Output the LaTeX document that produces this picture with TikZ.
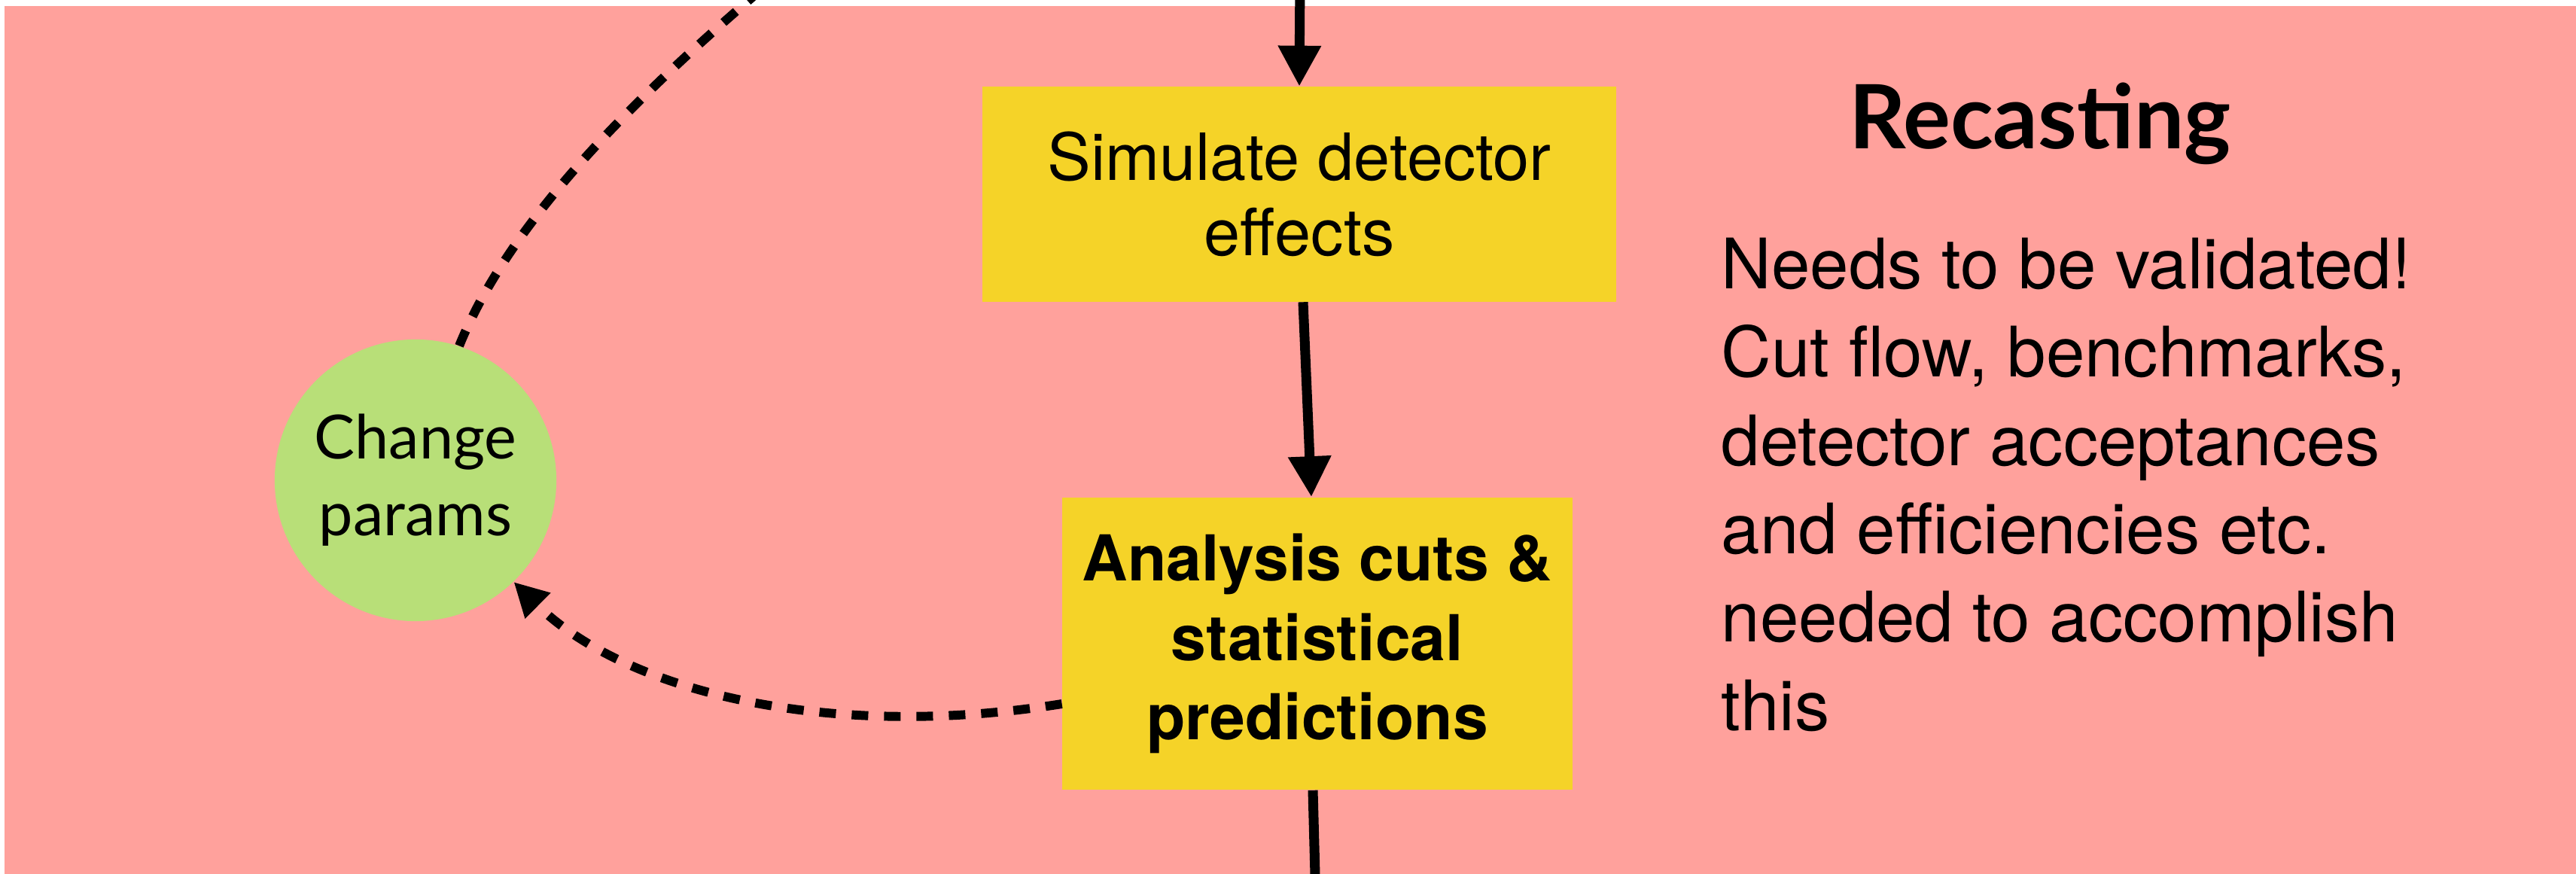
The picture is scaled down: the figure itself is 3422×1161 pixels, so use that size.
\documentclass[tikz,border=0pt]{standalone}
\usepackage{fontspec}
\setmainfont{TeX Gyre Heros}
\newfontfamily\roundfont{Lato}
\usetikzlibrary{arrows.meta}
\usetikzlibrary{positioning}
\usepackage{xcolor}

\definecolor{bgpink}{RGB}{255,161,156}
\definecolor{boxyellow}{RGB}{245,211,40}
\definecolor{paramgreen}{RGB}{184,223,120}

\tikzset{
  stepbox/.style={fill=boxyellow, inner sep=0pt, align=center},
  flow/.style={line width=3.7pt, -{Triangle[length=0.54cm, width=0.54cm]}},
  dashflow/.style={line width=3.4pt, dash pattern=on 0.22cm off 0.21cm}
}

\begin{document}
\begin{tikzpicture}[x=0.01cm, y=-0.01cm]

%background
\fill[white] (0,0) rectangle (3422,1161);
\useasboundingbox (0,0) rectangle (3422,1161);
\fill[bgpink] (6,8) rectangle (3422,1161);

%boxes
\node[stepbox, minimum width=8.42cm, minimum height=2.85cm,
      font=\fontsize{24.6pt}{28.5pt}\selectfont] (sim) at (1726,258) {Simulate detector\\effects};
\node[stepbox, minimum width=6.77cm, minimum height=3.88cm,
      font=\bfseries\fontsize{23.9pt}{30pt}\selectfont] (ana) at (1750,855) {Analysis cuts \&\\statistical\\predictions};
\node[circle, fill=paramgreen, minimum size=3.74cm, inner sep=0pt, align=center,
      font=\roundfont\fontsize{23pt}{29pt}\selectfont] (chg) at (552,638) {Change\\params};

%free ends
\coordinate (top) at (1727,-30);
\coordinate (bot) at (1748,1200);
\coordinate (exit) at (1060,-55);

%arrows
\draw[flow] (top) -- (sim.north);
\draw[flow] ([shift={(5,0)}]sim.south) -- ([shift={(-8,0)}]ana.north);
\draw[line width=3.7pt] ([shift={(-6,0)}]ana.south) -- (bot);

%loop
\draw[dashflow, -{Triangle[length=0.45cm, width=0.45cm]}] ([shift={(0,80)}]ana.west)
  .. controls +(-311,50) and +(147,145) .. (chg.-46);
\draw[dashflow] (chg.72) .. controls +(69,-170) and +(-210,175) .. (exit);

%labels
\node[anchor=base, font=\roundfont\bfseries\fontsize{33.5pt}{40pt}\selectfont] (title) at (2710,198) {Recasting};
\node[anchor=north west, inner sep=0pt, align=left,
      font=\fontsize{26.3pt}{33.4pt}\selectfont] (note) at (2286,315)
  {Needs to be validated!\\Cut flow, benchmarks,\\detector acceptances\\and efficiencies etc.\\needed to accomplish\\this};

\end{tikzpicture}
\end{document}
